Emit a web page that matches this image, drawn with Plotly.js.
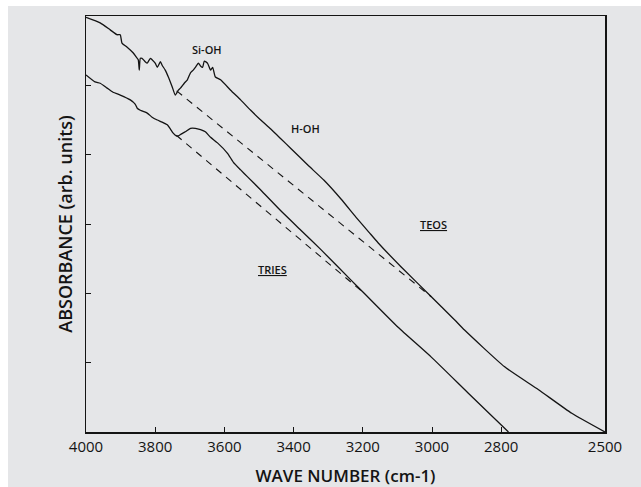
<!DOCTYPE html>
<html><head><meta charset="utf-8">
<script src="https://cdn.plot.ly/plotly-3.0.1.min.js"></script>
<style>html,body{margin:0;padding:0;background:#fff;overflow:hidden}#plot{position:absolute;left:8px;top:6px;width:633px;height:481px}</style>
</head><body><div id="plot"></div>
<script>
// TEOS spectrum (upper)
const teosWn = [4000,3959,3930,3910,3901,3896,3881,3864,3855,3849,3846,3843,3838,3829,3823,3814,3809,3800,3794,3785,3780,3771,3762,3751,3742,3733,3727,3716,3707,3698,3690,3684,3675,3669,3663,3658,3649,3643,3640,3634,3626,3611,3582,3553,3524,3495,3466,3437,3408,3359,3312,3263,3220,3182,3156,3089,3002,2935,2906,2790,2692,2596,2500];
const teosAbs = [5.98,5.90,5.80,5.73,5.73,5.61,5.55,5.47,5.41,5.37,5.22,5.39,5.39,5.34,5.32,5.39,5.37,5.32,5.26,5.34,5.29,5.22,5.12,4.98,4.86,4.93,4.96,5.03,5.08,5.18,5.22,5.26,5.32,5.28,5.26,5.35,5.32,5.25,5.22,5.26,5.12,5.08,4.93,4.79,4.64,4.50,4.37,4.23,4.09,3.85,3.63,3.36,3.10,2.88,2.73,2.38,1.95,1.62,1.47,0.94,0.61,0.27,0.0];
// TRIES spectrum (lower)
const triesWn = [4000,3974,3959,3939,3922,3901,3872,3858,3852,3843,3823,3809,3794,3780,3765,3756,3748,3739,3733,3724,3713,3698,3684,3669,3655,3640,3620,3591,3574,3553,3533,3495,3437,3379,3321,3234,3196,3098,3002,2895,2779];
const triesAbs = [5.15,5.05,5.03,4.96,4.90,4.86,4.79,4.73,4.67,4.64,4.60,4.54,4.50,4.47,4.43,4.37,4.31,4.27,4.27,4.30,4.33,4.38,4.38,4.36,4.33,4.25,4.17,4.02,3.89,3.78,3.68,3.49,3.19,2.91,2.63,2.19,2.00,1.51,1.08,0.56,0.0];
// Baselines (dashed)
const teosBaseWn = [3738,3002];
const teosBaseAbs = [4.92,1.95];
const triesBaseWn = [3739,3196];
const triesBaseAbs = [4.28,2.00];
// Tick values
const xTicks = [4000,3800,3600,3400,3200,3000,2800,2500];
const yTicks = [0,1,2,3,4,5,6];

const ink = '#141414';
const FONT = 'Open Sans, DejaVu Sans, sans-serif';
const solid = {color: ink, width: 1.3, shape: 'spline', smoothing: 0.5};
const dashed = {color: ink, width: 1.1, dash: '7px,6px'};
const traces = [
  {x: teosWn, y: teosAbs, mode: 'lines', line: solid, name: 'TEOS'},
  {x: triesWn, y: triesAbs, mode: 'lines', line: solid, name: 'TRIES'},
  {x: teosBaseWn, y: teosBaseAbs, mode: 'lines', line: dashed, name: 'TEOS baseline'},
  {x: triesBaseWn, y: triesBaseAbs, mode: 'lines', line: dashed, name: 'TRIES baseline'}
];
const ann = (t, x, y) => ({text: t, x: x, y: y, xref: 'x', yref: 'y', showarrow: false,
  font: {family: FONT, size: 11, color: ink, weight: 600}});
const layout = {
  width: 633, height: 481,
  margin: {l: 78, r: 36, t: 10, b: 55},
  paper_bgcolor: 'rgb(229,230,232)', plot_bgcolor: 'rgb(229,230,232)',
  showlegend: false,
  font: {family: FONT, color: ink},
  xaxis: {range: [4000, 2500], tickvals: xTicks, ticktext: xTicks.map(String),
    ticks: 'inside', ticklen: 5, tickcolor: ink, tickwidth: 1,
    showline: true, linecolor: ink, linewidth: 1.5, mirror: true,
    showgrid: false, zeroline: false,
    tickfont: {family: FONT, size: 15, color: ink},
    title: {text: 'WAVE NUMBER (cm-1)', standoff: 15, font: {family: FONT, size: 17, color: ink, weight: 600}}},
  yaxis: {range: [0, 6], tickvals: yTicks, showticklabels: false,
    ticks: 'inside', ticklen: 5, tickcolor: ink, tickwidth: 1,
    showline: true, linecolor: ink, linewidth: 1.5, mirror: true,
    showgrid: false, zeroline: false,
    title: {text: 'ABSORBANCE (arb. units)', standoff: 7, font: {family: FONT, size: 18, color: ink, weight: 600}}},
  annotations: [
    ann('Si-OH', 3649, 5.52),
    ann('H-OH', 3365, 4.38),
    ann('<u>TEOS</u>', 2996, 2.99),
    ann('<u>TRIES</u>', 3460, 2.34)
  ]
};
Plotly.newPlot('plot', traces, layout, {displayModeBar: false, staticPlot: true});
</script></body></html>
